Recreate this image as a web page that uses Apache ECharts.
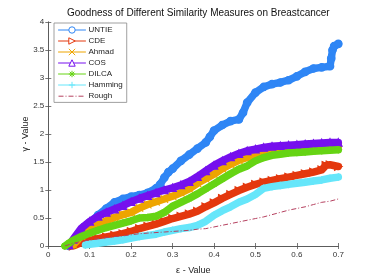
<!DOCTYPE html>
<html><head><meta charset="utf-8">
<script src="https://cdn.jsdelivr.net/npm/echarts@6/dist/echarts.min.js"></script>
<style>html,body{margin:0;padding:0;background:#fff}#c{width:374px;height:280px}</style>
</head><body><div id="c"></div>
<script>
const seriesNames = ['UNTIE','CDE','Ahmad','COS','DILCA','Hamming','Rough'];
const xTicks = [0,0.1,0.2,0.3,0.4,0.5,0.6,0.7];
const yTicks = [0,0.5,1,1.5,2,2.5,3,3.5,4];

const xUNTIE = [0.05,0.06,0.08,0.10,0.12,0.14,0.16,0.18,0.20,0.22,0.24,0.26,0.27,0.28,0.29,0.30,0.32,0.34,0.36,0.38,0.39,0.40,0.42,0.44,0.46,0.47,0.48,0.50,0.52,0.54,0.56,0.58,0.60,0.62,0.64,0.66,0.68,0.683,0.686,0.69,0.70];
const yUNTIE = [0,0.08,0.25,0.42,0.55,0.67,0.78,0.84,0.88,0.91,0.95,1.03,1.10,1.22,1.32,1.38,1.52,1.63,1.74,1.85,1.95,2.06,2.16,2.23,2.26,2.38,2.56,2.74,2.84,2.89,2.92,2.96,3.03,3.11,3.17,3.19,3.21,3.35,3.50,3.57,3.61];

const xCDE = [0.06,0.08,0.10,0.12,0.14,0.16,0.18,0.20,0.22,0.24,0.26,0.28,0.30,0.32,0.34,0.36,0.38,0.40,0.42,0.44,0.46,0.48,0.50,0.52,0.54,0.56,0.58,0.60,0.62,0.64,0.66,0.67,0.68,0.70];
const yCDE = [0.00,0.06,0.10,0.13,0.16,0.19,0.22,0.26,0.31,0.35,0.39,0.44,0.49,0.53,0.57,0.62,0.70,0.77,0.85,0.92,0.99,1.05,1.10,1.14,1.17,1.20,1.23,1.26,1.29,1.32,1.36,1.44,1.45,1.42];

const xAhmad = [0.06,0.08,0.10,0.12,0.14,0.16,0.18,0.20,0.22,0.24,0.26,0.28,0.30,0.32,0.34,0.36,0.38,0.40,0.42,0.44,0.46,0.48,0.50,0.52,0.54,0.56,0.58,0.60,0.62,0.64,0.66,0.68,0.70];
const yAhmad = [0.02,0.18,0.30,0.38,0.45,0.51,0.56,0.60,0.68,0.74,0.79,0.84,0.89,0.95,1.02,1.12,1.20,1.28,1.38,1.46,1.53,1.58,1.62,1.65,1.67,1.68,1.69,1.70,1.71,1.73,1.74,1.76,1.78];

const xCOS = [0.05,0.06,0.08,0.10,0.12,0.14,0.16,0.18,0.20,0.22,0.24,0.26,0.28,0.30,0.32,0.34,0.36,0.38,0.40,0.42,0.44,0.46,0.48,0.50,0.52,0.54,0.56,0.58,0.60,0.62,0.64,0.66,0.68,0.70];
const yCOS = [0.02,0.12,0.32,0.44,0.53,0.60,0.66,0.72,0.79,0.85,0.90,0.95,1.00,1.04,1.09,1.15,1.24,1.34,1.44,1.52,1.59,1.65,1.70,1.73,1.76,1.78,1.79,1.80,1.81,1.82,1.83,1.84,1.85,1.85];

const xDILCA = [0.04,0.05,0.06,0.08,0.10,0.12,0.14,0.16,0.18,0.20,0.22,0.24,0.26,0.28,0.30,0.32,0.34,0.36,0.38,0.40,0.42,0.44,0.46,0.48,0.50,0.52,0.54,0.56,0.58,0.60,0.62,0.64,0.66,0.68,0.70];
const yDILCA = [0.00,0.05,0.10,0.17,0.23,0.28,0.33,0.37,0.41,0.45,0.50,0.51,0.53,0.60,0.71,0.78,0.85,0.93,1.02,1.11,1.20,1.29,1.37,1.43,1.52,1.58,1.62,1.64,1.66,1.67,1.68,1.69,1.70,1.71,1.72];

const xHamming = [0.09,0.10,0.12,0.14,0.16,0.18,0.20,0.22,0.24,0.26,0.28,0.30,0.32,0.34,0.36,0.38,0.40,0.42,0.44,0.46,0.48,0.50,0.52,0.54,0.56,0.58,0.60,0.62,0.64,0.66,0.68,0.70];
const yHamming = [0.02,0.03,0.05,0.07,0.09,0.11,0.14,0.17,0.19,0.21,0.25,0.28,0.31,0.33,0.37,0.44,0.55,0.63,0.70,0.78,0.84,0.92,1.03,1.06,1.08,1.10,1.12,1.14,1.16,1.18,1.21,1.23];

const xRough = [0.04,0.06,0.08,0.10,0.12,0.14,0.16,0.18,0.20,0.22,0.24,0.26,0.28,0.30,0.32,0.34,0.36,0.38,0.40,0.42,0.44,0.46,0.48,0.50,0.52,0.54,0.56,0.58,0.60,0.62,0.64,0.66,0.68,0.70];
const yRough = [0.00,0.05,0.08,0.11,0.13,0.15,0.17,0.18,0.20,0.22,0.23,0.24,0.25,0.26,0.27,0.28,0.30,0.31,0.34,0.37,0.40,0.43,0.46,0.49,0.52,0.56,0.60,0.64,0.67,0.70,0.74,0.78,0.80,0.84];

const zip = (xs, ys) => xs.map((x, i) => [x, ys[i]]);
const colors = ['#2f86f5','#e4380e','#eea500','#7610ee','#66d414','#66e6fa','#b5405f'];
const symbols = [
  'circle',
  'path://M0,0L10,5L0,10Z',
  'path://M0,0L10,10M10,0L0,10',
  'triangle',
  'path://M5,0L5,10M0,5L10,5M1.5,1.5L8.5,8.5M8.5,1.5L1.5,8.5',
  'path://M5,0L5,10M0,5L10,5',
  'none'
];
const dataSets = [zip(xUNTIE,yUNTIE), zip(xCDE,yCDE), zip(xAhmad,yAhmad), zip(xCOS,yCOS), zip(xDILCA,yDILCA), zip(xHamming,yHamming), zip(xRough,yRough)];

const series = seriesNames.map((n, i) => {
  const isRough = n === 'Rough';
  return {
    name: n, type: 'line', data: dataSets[i],
    symbol: symbols[i], symbolSize: isRough ? 0 : 7.5, showAllSymbol: true,
    lineStyle: isRough ? {color: colors[i], width: 1, type: [5,2,1,2]} : {color: colors[i], width: 7.5, cap: 'round', join: 'round'},
    itemStyle: {color: colors[i], borderColor: colors[i], borderWidth: 1.2},
    emphasis: {disabled: true}, animation: false, z: 2 + i
  };
});

const chart = echarts.init(document.getElementById('c'), null, {renderer: 'canvas'});
const axisCommon = {
  axisLine: {show: true, lineStyle: {color: '#555', width: 0.8}},
  axisTick: {show: true, inside: true, length: 3, lineStyle: {color: '#555', width: 0.8}},
  splitLine: {show: false}
};
chart.setOption({
  animation: false,
  title: {text: 'Goodness of Different Similarity Measures on Breastcancer', left: 193.3, textAlign: 'center', top: 3,
    textStyle: {fontSize: 10, fontWeight: 'normal', color: '#111', fontFamily: 'Liberation Sans'}},
  grid: {left: 48.3, right: 35.7, top: 22, bottom: 30.7},
  xAxis: [
    Object.assign({type: 'value', min: 0, max: 0.7, interval: 0.1, position: 'bottom',
      name: 'ε - Value', nameLocation: 'middle', nameGap: 20, nameMoveOverlap: false,
      nameTextStyle: {fontSize: 9, color: '#222', fontFamily: 'Liberation Sans'},
      axisLabel: {fontSize: 8, color: '#333', margin: 5, fontFamily: 'Liberation Sans',
        formatter: v => String(xTicks.find(t => Math.abs(t - v) < 1e-9) ?? v)}}, axisCommon),
    Object.assign({type: 'value', min: 0, max: 0.7, interval: 0.1, position: 'top', axisLabel: {show: false}}, axisCommon)
  ],
  yAxis: [
    Object.assign({type: 'value', min: 0, max: 4, interval: 0.5, position: 'left',
      name: 'γ - Value', nameLocation: 'middle', nameGap: 18, nameMoveOverlap: false,
      nameTextStyle: {fontSize: 9, color: '#222', fontFamily: 'Liberation Sans'},
      axisLabel: {fontSize: 8, color: '#333', margin: 4, fontFamily: 'Liberation Sans',
        formatter: v => String(yTicks.find(t => Math.abs(t - v) < 1e-9) ?? v)}}, axisCommon),
    Object.assign({type: 'value', min: 0, max: 4, interval: 0.5, position: 'right', axisLabel: {show: false}}, axisCommon)
  ],
  legend: {
    orient: 'vertical', left: 54, top: 23, itemWidth: 27, itemHeight: 8, itemGap: 3,
    padding: [3, 4, 2, 4], borderColor: '#888', borderWidth: 0.8, backgroundColor: '#fff',
    textStyle: {fontSize: 8, color: '#222', fontFamily: 'Liberation Sans', padding: [0,0,0,-2]},
    data: seriesNames.map((n, i) => ({
      name: n,
      itemStyle: n === 'Rough' ? {opacity: 0} : {color: (n === 'UNTIE' || n === 'COS' || n === 'CDE') ? '#fff' : colors[i], borderColor: colors[i], borderWidth: 1},
      lineStyle: {width: 1, color: colors[i]}
    }))
  },
  series: series
});
</script></body></html>
